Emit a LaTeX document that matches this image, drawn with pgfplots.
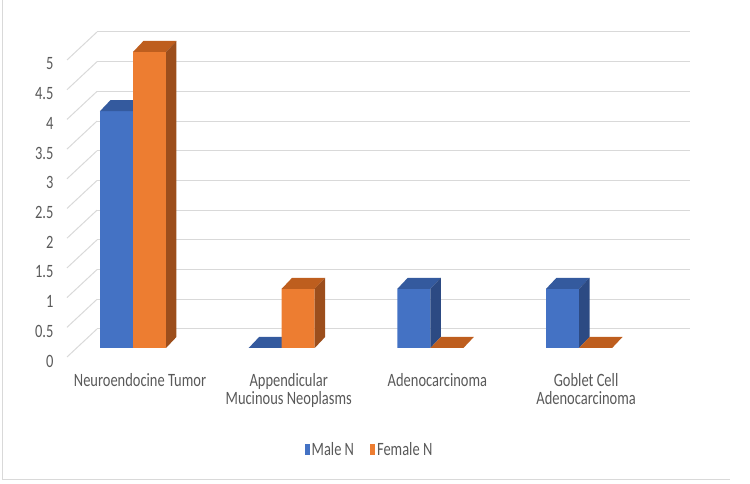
\documentclass[border=0pt]{standalone}
\usepackage{pgfplots}
\pgfplotsset{compat=1.18}
\usepackage{pgfplotstable}
\usepackage{fontspec}
\setmainfont{Carlito}
\newfontfamily\chartfont{Carlito}[FakeStretch=0.77]
\newcommand{\cf}{\chartfont\fontsize{18.8}{18}\selectfont}
\definecolor{blueMain}{HTML}{4472C4}
\definecolor{orangeMain}{HTML}{ED7D31}
\definecolor{blueTop}{HTML}{345A9E}
\definecolor{blueSide}{HTML}{2C4A83}
\definecolor{orangeTop}{HTML}{BE5E1E}
\definecolor{orangeSide}{HTML}{9C4E1C}
\definecolor{textgray}{HTML}{595959}
\definecolor{gridgray}{HTML}{D9D9D9}
\pgfplotsset{
  maleLeg/.style={legend image code/.code={\fill[blueMain] (0pt,-5.5pt) rectangle (5pt,5.5pt);}},
  femaleLeg/.style={legend image code/.code={\fill[orangeMain] (0pt,-5.5pt) rectangle (5pt,5.5pt);}},
  face/.style={draw=none, forget plot, sharp plot, mark=none},
}
\pgfplotstableread{
x male female
0 4 5
1 0 1
2 1 0
3 1 0
}\datatable

\begin{document}
\begin{tikzpicture}[x=1pt,y=1pt]
\useasboundingbox (0,0) rectangle (750,484);
\draw[gridgray, line width=1pt] (2,484) -- (2,4) -- (730,4);
% back wall with gridlines and value labels
\begin{axis}[
  at={(97pt,155pt)}, anchor=south west,
  scale only axis, width=593pt, height=297pt,
  xmin=0, xmax=1, ymin=0, ymax=5,
  xtick=\empty,
  ytick={0,0.5,1,1.5,2,2.5,3,3.5,4,4.5,5},
  yticklabels={0,0.5,1,1.5,2,2.5,3,3.5,4,4.5,5},
  ymajorgrids, grid style={draw=gridgray, line width=1pt},
  axis line style={draw=none}, major tick length=0pt,
  yticklabel style={anchor=east, xshift=-40pt, yshift=-32pt, text=textgray, font=\cf},
]
\addplot[draw=none, forget plot] coordinates {(0,0)};
\end{axis}
\foreach \i in {0,...,10} {
  \draw[gridgray, line width=1pt] (97,155+29.7*\i) -- (67,127+29.7*\i);
}
% bars
\begin{axis}[
  at={(58.65pt,136pt)}, anchor=south west,
  scale only axis, width=594.8pt, height=296pt,
  xmin=-0.5, xmax=3.5, ymin=0, ymax=5,
  clip=false,
  axis line style={draw=none}, major tick length=0pt,
  ytick=\empty,
  xtick={0,1,2,3},
  xticklabels={Neuroendocine Tumor,{Appendicular\\Mucinous Neoplasms},Adenocarcinoma,{Goblet Cell\\Adenocarcinoma}},
  xticklabel style={align=center, xshift=7pt, yshift=-22pt, text=textgray, font=\cf},
  legend style={at={(0.5226,-0.3446)}, anchor=center, draw=none, fill=none,
    font=\cf, text=textgray, legend columns=-1,
    nodes={inner sep=2pt},
    /tikz/every even column/.append style={column sep=14pt}},
]
\addplot[ybar, bar width=33pt, bar shift=-16.5pt, fill=blueMain, draw=none, maleLeg] table[x=x, y=male]{\datatable};
\addplot[face, fill=blueTop] coordinates {(-0.222,4) (-0.152,4.186) (0.07,4.186) (0,4)} -- cycle;
\addplot[face, fill=blueSide] coordinates {(0,0) (0.07,0.186) (0.07,4.186) (0,4)} -- cycle;
\addplot[face, fill=blueTop] coordinates {(0.778,0) (0.848,0.186) (1.07,0.186) (1,0)} -- cycle;
\addplot[face, fill=blueTop] coordinates {(1.778,1) (1.848,1.186) (2.07,1.186) (2,1)} -- cycle;
\addplot[face, fill=blueSide] coordinates {(2,0) (2.07,0.186) (2.07,1.186) (2,1)} -- cycle;
\addplot[face, fill=blueTop] coordinates {(2.778,1) (2.848,1.186) (3.07,1.186) (3,1)} -- cycle;
\addplot[face, fill=blueSide] coordinates {(3,0) (3.07,0.186) (3.07,1.186) (3,1)} -- cycle;
\addplot[ybar, bar width=33pt, bar shift=16.5pt, fill=orangeMain, draw=none, femaleLeg] table[x=x, y=female]{\datatable};
\addplot[face, fill=orangeTop] coordinates {(0,5) (0.07,5.186) (0.292,5.186) (0.222,5)} -- cycle;
\addplot[face, fill=orangeSide] coordinates {(0.222,0) (0.292,0.186) (0.292,5.186) (0.222,5)} -- cycle;
\addplot[face, fill=orangeTop] coordinates {(1,1) (1.07,1.186) (1.292,1.186) (1.222,1)} -- cycle;
\addplot[face, fill=orangeSide] coordinates {(1.222,0) (1.292,0.186) (1.292,1.186) (1.222,1)} -- cycle;
\addplot[face, fill=orangeTop] coordinates {(2,0) (2.07,0.186) (2.292,0.186) (2.222,0)} -- cycle;
\addplot[face, fill=orangeTop] coordinates {(3,0) (3.07,0.186) (3.292,0.186) (3.222,0)} -- cycle;
\legend{Male N, Female N}
\end{axis}
\end{tikzpicture}
\end{document}
